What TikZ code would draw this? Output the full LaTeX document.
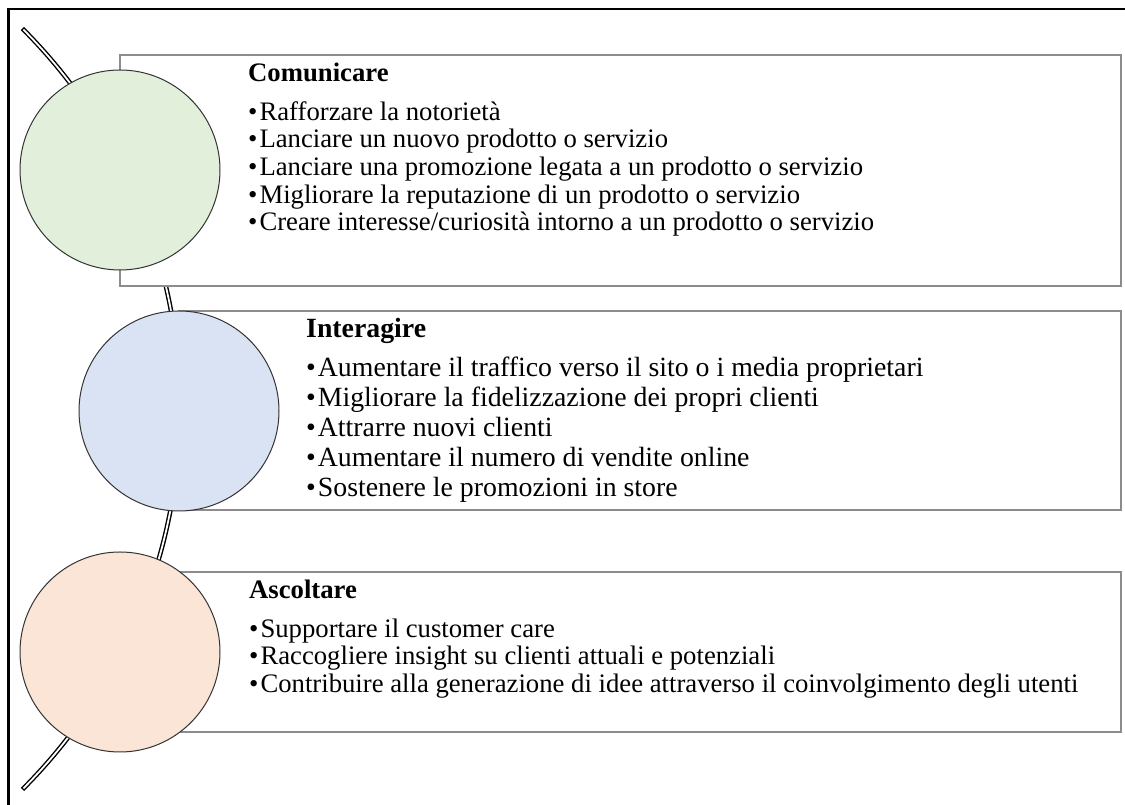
\documentclass[tikz,border=0pt]{standalone}
\usepackage{fontspec}
\setmainfont{Liberation Serif}
\definecolor{comGreen}{HTML}{E2EFDA}
\definecolor{intBlue}{HTML}{DAE3F3}
\definecolor{ascPeach}{HTML}{FBE5D6}
\newcommand{\itm}{•\hspace{2pt}}

\begin{document}
\begin{tikzpicture}[x=1pt,y=1pt,
  goal/.style={draw=black!45, line width=1.2pt, fill=white},
  bubble/.style={circle, draw=black!80, line width=1pt, minimum size=200pt, inner sep=0pt},
  txt/.style={anchor=north west, align=left, inner sep=0pt, font=\fontsize{26.7}{27.7}\selectfont}]
  \useasboundingbox (0,0) rectangle (1125,805);

  % frame
  \draw[line width=2.7pt] (8.5,-5) |- (1130,796);

  % Draw the curved line behind everything
  \coordinate (hub) at (-358,396);
  \draw[line width=4.6pt] (hub) ++(45:538pt) arc[start angle=45, end angle=-45, radius=538pt];
  \draw[white, line width=1.8pt] (hub) ++(44.85:538pt) arc[start angle=44.85, end angle=-44.85, radius=538pt];

  % boxes
  \draw[goal] (120,519) rectangle (1121,750);
  \draw[goal] (179,295) rectangle (1121,494);
  \draw[goal] (120,73) rectangle (1121,233);

  % circles
  \node[bubble, fill=comGreen] (c1) at (120,635) {};
  \node[bubble, fill=intBlue] (c2) at (179,394) {};
  \node[bubble, fill=ascPeach] (c3) at (120,153) {};

  % texts
  \node[txt] (t1) at (248,744) {\rule{0pt}{20pt}\textbf{Comunicare}\\[11.3pt]
    \itm Rafforzare la notorietà\\
    \itm Lanciare un nuovo prodotto o servizio\\
    \itm Lanciare una promozione legata a un prodotto o servizio\\
    \itm Migliorare la reputazione di un prodotto o servizio\\
    \itm Creare interesse/curiosità intorno a un prodotto o servizio};
  \node[txt, font=\fontsize{27.8}{30}\selectfont] (t2) at (306,488) {\rule{0pt}{20pt}\textbf{Interagire}\\[9pt]
    \itm Aumentare il traffico verso il sito o i media proprietari\\
    \itm Migliorare la fidelizzazione dei propri clienti\\
    \itm Attrarre nuovi clienti\\
    \itm Aumentare il numero di vendite online\\
    \itm Sostenere le promozioni in store};
  \node[txt] (t3) at (249,227) {\rule{0pt}{20pt}\textbf{Ascoltare}\\[11.3pt]
    \itm Supportare il customer care\\
    \itm Raccogliere insight su clienti attuali e potenziali\\
    \itm Contribuire alla generazione di idee attraverso il coinvolgimento degli utenti};
\end{tikzpicture}
\end{document}
